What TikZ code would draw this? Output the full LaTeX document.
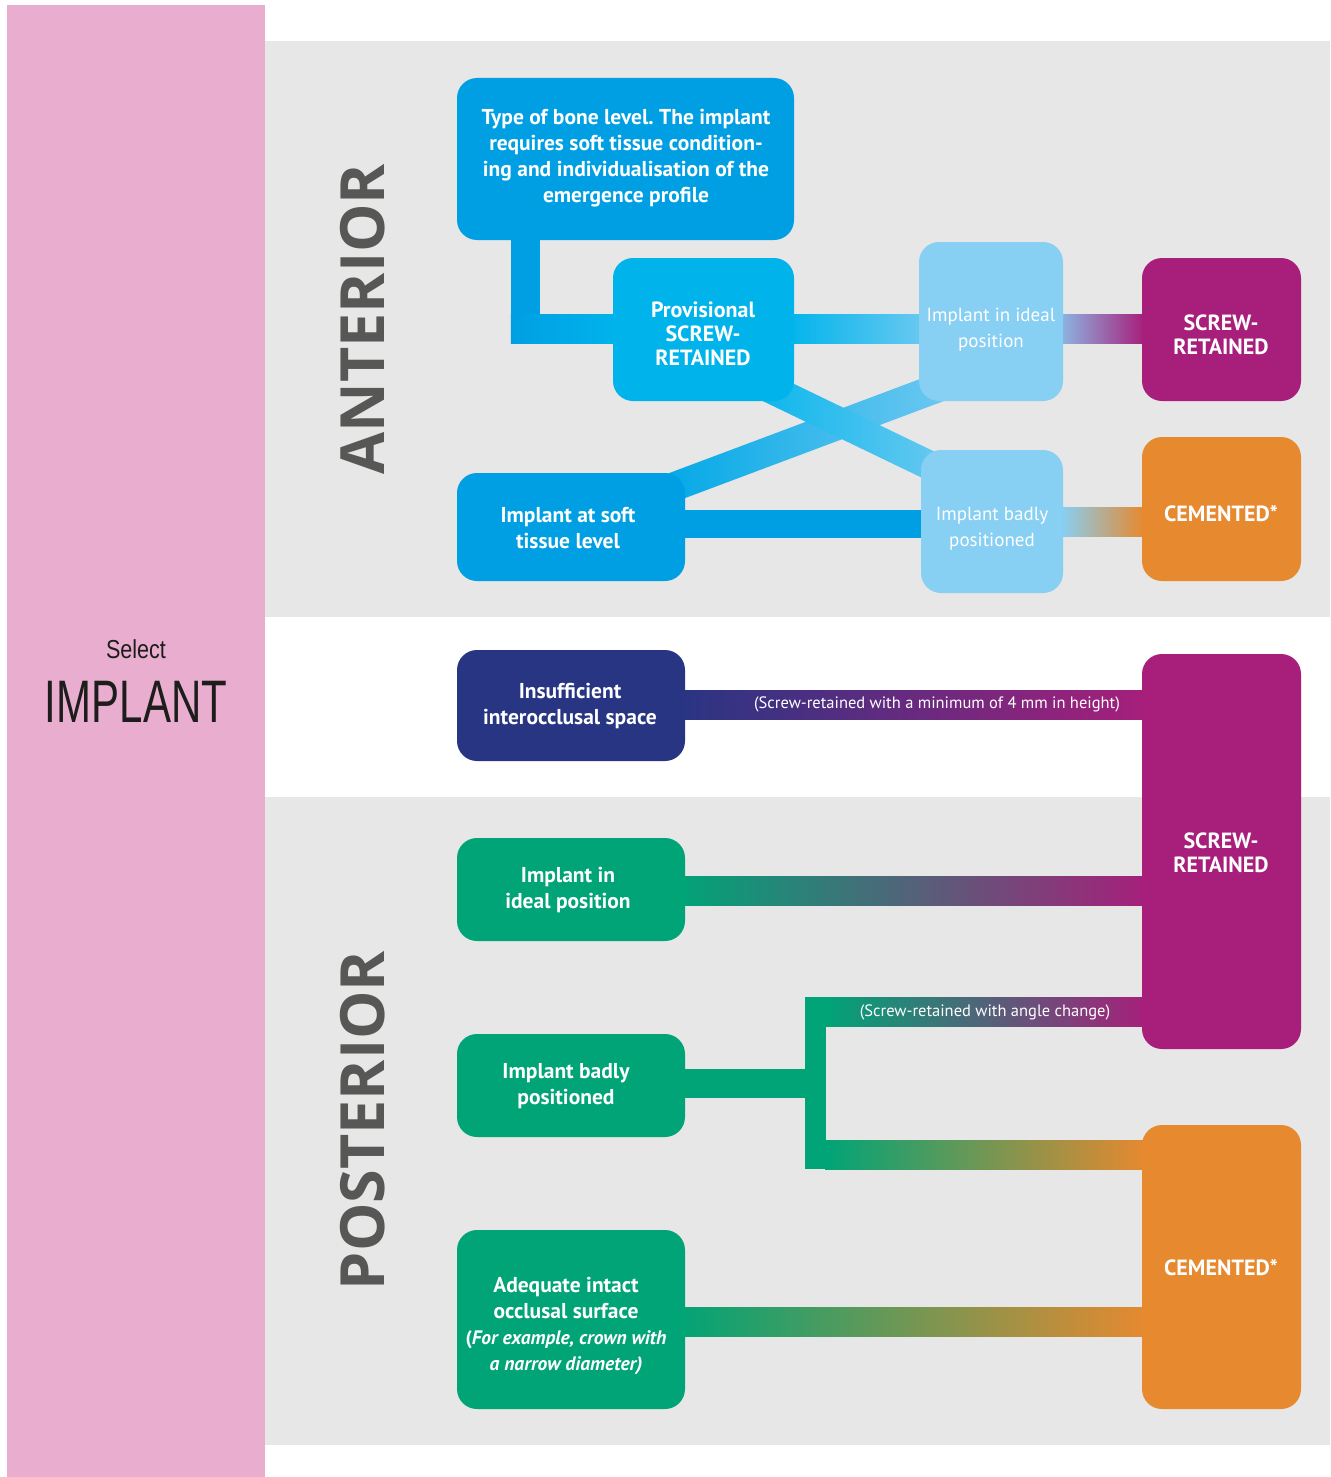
\documentclass[tikz,border=0pt]{standalone}
\usepackage{fontspec}
\usetikzlibrary{calc}
\setmainfont{PT Sans}
\newfontfamily\boxfont{PT Sans}
\newfontfamily\headfont{Open Sans}
\newfontfamily\selfont{Liberation Sans}
\definecolor{bgray}{HTML}{E7E7E7}
\definecolor{pinkband}{HTML}{E9AECF}
\definecolor{blueD}{HTML}{009FE3}
\definecolor{cyanP}{HTML}{00B4EB}
\definecolor{lblue}{HTML}{87CFF3}
\definecolor{purp}{HTML}{A71F7B}
\definecolor{orng}{HTML}{E7892F}
\definecolor{navy}{HTML}{283583}
\definecolor{grn}{HTML}{00A477}
\definecolor{dgray}{HTML}{575756}
\definecolor{seltext}{HTML}{1D1D1B}
\pgfdeclarelayer{bgband}
\pgfdeclarelayer{bars}
\pgfsetlayers{bgband,bars,main}
\frenchspacing
\begin{document}
\begin{tikzpicture}[x=1pt,y=-1pt,
  ibox/.style={rounded corners=20pt, inner sep=0pt},
  lbox/.style={ibox, fill=lblue},
  btext/.style={inner sep=0pt, align=center, text=white,
    font=\boxfont\bfseries\fontsize{21.5}{26}\selectfont},
  ctext/.style={btext, font=\boxfont\bfseries\fontsize{22}{24}\selectfont},
  ltext/.style={btext, font=\boxfont\fontsize{19}{26}\selectfont},
  barlabel/.style={text=white, inner sep=0pt, font=\boxfont\fontsize{16.5}{18}\selectfont},
  region/.style={inner sep=0pt, text=dgray, font=\headfont\bfseries\fontsize{61}{61}\selectfont, rotate=90}
]
\useasboundingbox (0,0) rectangle (1330,1477);
\begin{pgfonlayer}{bgband}
\fill[white] (0,0) rectangle (1330,1477);
\fill[bgray] (265,41) rectangle (1330,617);
\fill[bgray] (265,797) rectangle (1330,1445);
\fill[pinkband] (7,5) rectangle (265,1477);
\end{pgfonlayer}

% ---- boxes ----
\node[ibox, fill=blueD, minimum width=337, minimum height=162] (type) at (625.5,159) {};
\node[ibox, fill=cyanP, minimum width=181, minimum height=143] (prov) at (703.5,329.5) {};
\node[lbox, minimum width=144, minimum height=159] (ideal) at (991,321.5) {};
\node[ibox, fill=purp, minimum width=159, minimum height=143] (scrA) at (1221.5,329.5) {};
\node[ibox, fill=blueD, minimum width=228, minimum height=108] (soft) at (571,527) {};
\node[lbox, minimum width=142, minimum height=143] (bad) at (992,521.5) {};
\node[ibox, fill=orng, minimum width=159, minimum height=144] (cemA) at (1221.5,509) {};
\node[ibox, fill=navy, minimum width=228, minimum height=111] (insuf) at (571,705.5) {};
\node[ibox, fill=purp, minimum width=159, minimum height=395] (scrB) at (1221.5,851.5) {};
\node[ibox, fill=grn, minimum width=228, minimum height=103] (gideal) at (571,889.5) {};
\node[ibox, fill=grn, minimum width=228, minimum height=103] (gbad) at (571,1085.5) {};
\node[ibox, fill=grn, minimum width=228, minimum height=179] (adeq) at (571,1319.5) {};
\node[ibox, fill=orng, minimum width=159, minimum height=284] (cemB) at (1221.5,1267) {};

% ---- box texts ----
\node[btext] (typeT) at (626,158) {Type of bone level. The implant\\requires soft tissue condition-\\ing and individualisation of the\\emergence profile};
\node[ctext] (provT) at (703,334) {Provisional\\SCREW-\\RETAINED};
\node[ltext] (idealT) at (991,330) {Implant in ideal\\position};
\node[ctext] (scrAT) at (1221,335) {SCREW-\\RETAINED};
\node[btext] (softT) at (568,528) {Implant at soft\\tissue level};
\node[ltext] (badT) at (992,529) {Implant badly\\positioned};
\node[ctext] (cemAT) at (1221,514) {CEMENTED*};
\node[btext] (insufT) at (570,706) {Insufficient\\interocclusal space};
\node[ctext] (scrBT) at (1221,853) {SCREW-\\RETAINED};
\node[btext] (gidealT) at (568,890) {Implant in\\ideal position};
\node[btext] (gbadT) at (566,1086) {Implant badly\\positioned};
\node[btext] (adeqT) at (566,1326) {Adequate intact\\occlusal surface\\{\fontsize{19.5}{26}\selectfont(\textit{For example, crown with}}\\{\fontsize{19.5}{26}\selectfont\textit{a narrow diameter)}}};
\node[ctext] (cemBT) at (1221,1268) {CEMENTED*};

% ---- connectors (bars), drawn beneath the boxes ----
\begin{pgfonlayer}{bars}
% type -> provisional
\fill[blueD] ($(type.south west)+(54,-10)$) rectangle ($(type.south west)+(83,103)$);
\shade[left color=blueD, right color=cyanP] ($(type.south west)+(54,74)$) rectangle ($(prov.west)+(8,14)$);
% provisional -> ideal
\shade[left color=cyanP, right color=lblue!80!cyanP] ($(prov.east)+(-8,-15)$) rectangle ($(ideal.west |- prov.east)+(8,14)$);
% ideal -> screw
\shade[left color=lblue!85!purp, right color=purp] ($(ideal.east |- prov.east)+(-2,-15)$) rectangle ($(scrA.west)+(2,14)$);
% soft -> bad
\fill[blueD] ($(soft.east)+(-8,-17)$) rectangle ($(bad.west |- soft.east)+(8,11)$);
% bad -> cemented
\shade[left color=lblue, right color=orng] ($(bad.east |- cemA.west)+(-2,-2)$) rectangle ($(cemA.west)+(2,27)$);
% diagonal soft -> ideal
\coordinate (s1) at (660,492);
\coordinate (s2) at (980,372);
\shade[left color=blueD!60!cyanP, right color=lblue!90!cyanP]
  ($(s1)!14.5pt!90:(s2)$) -- ($(s2)!14.5pt!-90:(s1)$) -- ($(s2)!14.5pt!90:(s1)$) -- ($(s1)!14.5pt!-90:(s2)$) -- cycle;
% diagonal provisional -> bad
\coordinate (p1) at (740,374);
\coordinate (p2) at (960,480);
\shade[left color=cyanP, right color=lblue!85!cyanP]
  ($(p1)!14.5pt!90:(p2)$) -- ($(p2)!14.5pt!-90:(p1)$) -- ($(p2)!14.5pt!90:(p1)$) -- ($(p1)!14.5pt!-90:(p2)$) -- cycle;
% insufficient -> screw B
\shade[left color=navy, right color=purp] ($(insuf.east)+(-8,-15.5)$) rectangle ($(scrB.west |- insuf.east)+(8,13.5)$);
% green ideal -> screw B
\shade[left color=grn, right color=purp] ($(gideal.east)+(-8,-13.5)$) rectangle ($(scrB.west |- gideal.east)+(6,15.5)$);
% green bad -> split
\fill[grn] ($(gbad.east)+(-8,-16.5)$) rectangle ($(gbad.east)+(141,12.5)$);
\coordinate (splitT) at (805,997);
\coordinate (splitB) at (826,1169);
\shade[left color=grn, right color=purp] (825,997) rectangle ($(scrB.west |- 0,1026)+(6,0)$);
\shade[left color=grn, right color=orng] (825,1140) rectangle ($(cemB.west |- 0,1169)+(6,0)$);
\fill[grn] (805,997) rectangle (831,1026);
\fill[grn] (805,1140) rectangle (831,1169);
\fill[grn] (splitT) rectangle (splitB);
\end{pgfonlayer}
\begin{pgfonlayer}{bars}
% adequate -> cemented B
\shade[left color=grn, right color=orng] ($(adeq.east)+(-8,-12.5)$) rectangle ($(cemB.west |- adeq.east)+(6,16.5)$);
\end{pgfonlayer}

% bar labels
\node[barlabel] (lab1) at (937,704) {(Screw-retained with a minimum of 4 mm in height)};
\node[barlabel] (lab2) at (985,1012) {(Screw-retained with angle change)};

% region titles
\node[region] (ant) at (363,319) {ANTERIOR};
\node[region] (post) at (363,1120.5) {POSTERIOR};

% select implant
\node[inner sep=0pt, text=seltext, font=\selfont\fontsize{26}{26}\selectfont] (sel) at (136,649) {\scalebox{0.83}[1]{Select}};
\node[inner sep=0pt, text=seltext, font=\selfont\fontsize{60}{60}\selectfont] (impl) at (136,702) {\scalebox{0.70}[1]{IMPLANT}};
\end{tikzpicture}
\end{document}
